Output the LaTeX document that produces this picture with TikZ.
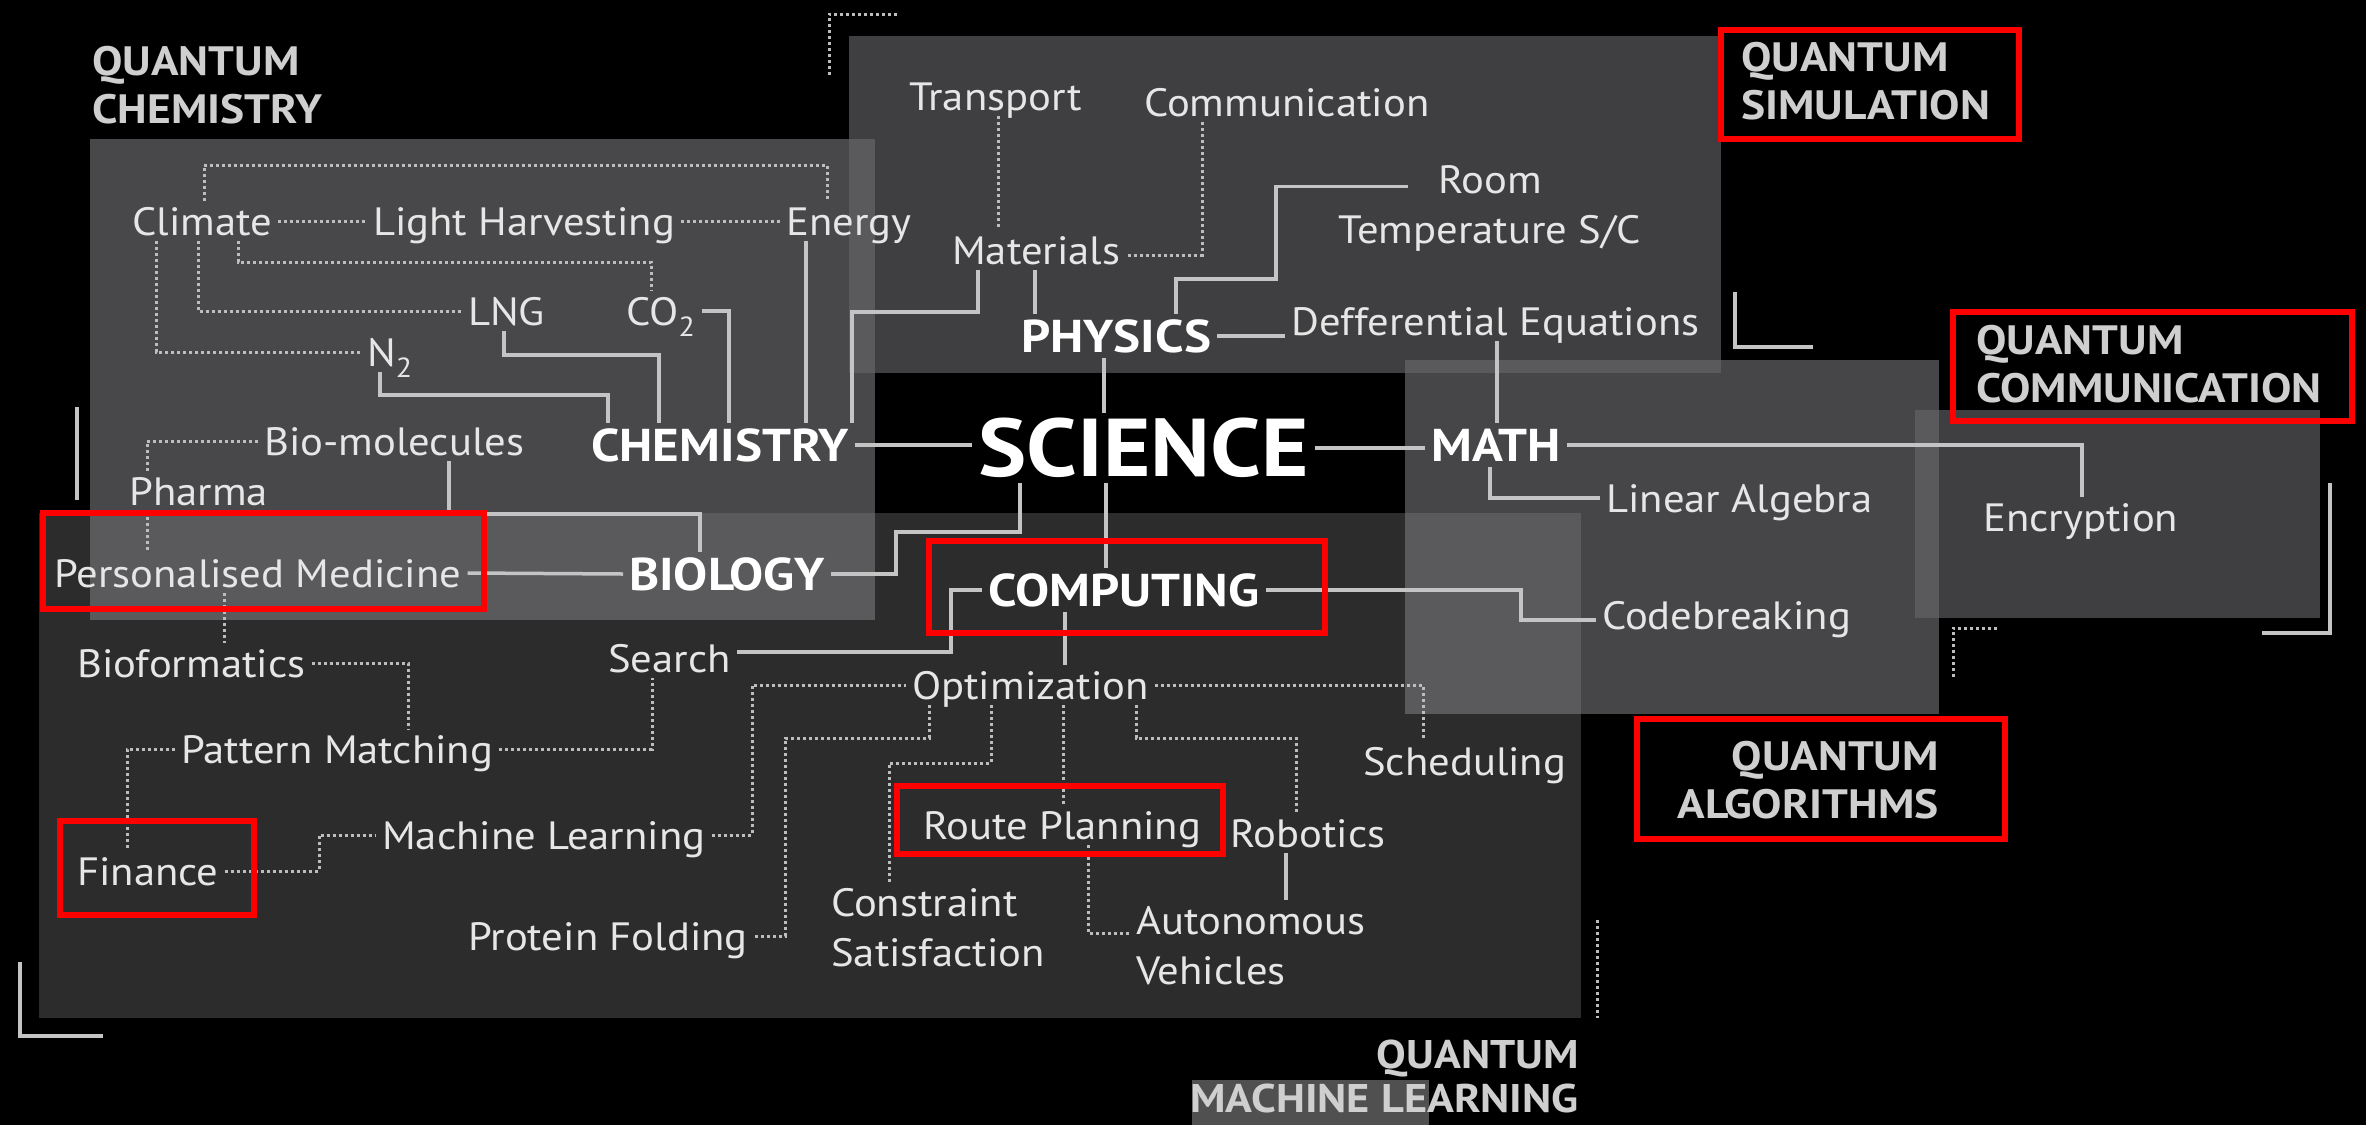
\documentclass[tikz,border=0pt]{standalone}
\usepackage{fontspec}
\setmainfont[FakeStretch=1.08, BoldFeatures={FakeStretch=1.11}]{PT Sans}
\usetikzlibrary{calc}
\definecolor{chemc}{HTML}{48484A}
\definecolor{physc}{HTML}{3F3F41}
\definecolor{mathc}{HTML}{464648}
\definecolor{commc}{HTML}{3F3F41}
\definecolor{mlc}{HTML}{2C2C2C}
\definecolor{ovc}{HTML}{5A5A5C}
\definecolor{hlc}{HTML}{505050}
\definecolor{txt}{HTML}{E6E6E6}
\definecolor{qtxt}{HTML}{CFCFCF}
\definecolor{linec}{HTML}{C4C4C4}
\definecolor{dotc}{HTML}{BDBDBD}
\begin{document}
\begin{tikzpicture}[x=1pt,y=-1pt,
  lab/.style={font=\fontsize{39.5}{50}\selectfont, text=txt, inner sep=6pt, text height=28pt, text depth=0pt, anchor=west},
  labm/.style={font=\fontsize{39.5}{50}\selectfont, text=txt, inner sep=6pt, align=left, anchor=north west},
  sect/.style={font=\bfseries\fontsize{46}{55}\selectfont, text=white, inner sep=6pt, text height=32pt, text depth=0pt, anchor=west},
  scil/.style={font=\bfseries\fontsize{82}{90}\selectfont, text=white, inner sep=6pt, text height=57pt, text depth=0pt, anchor=west},
  qlab/.style={font=\bfseries\fontsize{41}{48}\selectfont, text=qtxt, inner sep=0pt},
  solidl/.style={draw=linec, line width=3.5pt},
  dotl/.style={draw=dotc, line width=3pt, dash pattern=on 3pt off 3pt},
  redbox/.style={draw=red, line width=6pt}]
\useasboundingbox (0,0) rectangle (2366,1125);
\fill[black] (0,0) rectangle (2366,1125);
% panels
\fill[chemc] (90,139) rectangle (875,620);
\fill[physc] (849,36) rectangle (1721,373);
\fill[mathc] (1405,360) rectangle (1939,714);
\fill[commc] (1915,410) rectangle (2320,618);
\fill[mlc] (39,513) rectangle (1581,1018);
\fill[ovc] (90,513) rectangle (875,620);
\fill[ovc] (849,139) rectangle (875,373);
\fill[ovc] (1405,360) rectangle (1721,373);
\fill[ovc] (1405,513) rectangle (1581,714);
\fill[ovc] (1915,410) rectangle (1939,618);
\fill[hlc] (1192,1080) rectangle (1429,1125);
% corner marks
\draw[dotl] (829,75) -- (829,14) -- (898,14);
\draw[solidl] (1735,292) -- (1735,347) -- (1813,347);
\draw[solidl] (2330,483) -- (2330,633) -- (2262,633);
\draw[dotl] (1953,677) -- (1953,628) -- (1997,628);
\draw[dotl] (1597,920) -- (1597,1018);
\draw[solidl] (20,962) -- (20,1036) -- (103,1036);
\draw[solidl] (77,407) -- (77,500);
% quantum labels
\node[qlab, align=left, anchor=north west] (qchem) at (92,46) {QUANTUM\\CHEMISTRY};
\node[qlab, align=left, anchor=north west] (qsim) at (1741,42) {QUANTUM\\SIMULATION};
\node[qlab, align=left, anchor=north west] (qcomm) at (1976,325) {QUANTUM\\COMMUNICATION};
\node[qlab, align=right, anchor=north east] (qalg) at (1939,741) {QUANTUM\\ALGORITHMS};
\node[qlab, align=right, anchor=north east, font=\bfseries\fontsize{40}{44}\selectfont] (qml) at (1579,1040) {QUANTUM\\MACHINE LEARNING};
% nodes
\node[lab] (climate) at (126,221) {Climate};
\node[lab] (lh) at (367,221) {Light Harvesting};
\node[lab] (energy) at (780,221) {Energy};
\node[lab] (lng) at (462,311) {LNG};
\node[lab] (co2) at (620,311) {CO\textsubscript{2}};
\node[lab] (n2) at (361,352) {N\textsubscript{2}};
\node[lab] (biomol) at (258,441) {Bio-molecules};
\node[sect] (chem) at (585,445) {CHEMISTRY};
\node[lab] (pharma) at (123,491) {Pharma};
\node[lab] (pmed) at (48,573) {Personalised Medicine};
\node[sect] (bio) at (623,574) {BIOLOGY};
\node[lab] (biof) at (71,663) {Bioformatics};
\node[lab] (search) at (602,658) {Search};
\node[lab] (patt) at (175,749) {Pattern Matching};
\node[lab] (fin) at (71,871) {Finance};
\node[lab] (mlearn) at (376,835) {Machine Learning};
\node[lab] (pfold) at (462,936) {Protein Folding};
\node[lab] (trans) at (903,96) {Transport};
\node[lab] (comm) at (1138,102) {Communication};
\node[labm, align=center, anchor=north] (room) at (1490,159.5) {Room\\Temperature S/C};
\node[lab] (mat) at (946,250) {Materials};
\node[sect] (phys) at (1015,336) {PHYSICS};
\node[lab] (deq) at (1285,321) {Defferential Equations};
\node[scil] (sci) at (972,448) {SCIENCE};
\node[sect] (math) at (1425,445) {MATH};
\node[lab] (linalg) at (1600,498) {Linear Algebra};
\node[lab] (enc) at (1977,517) {Encryption};
\node[sect] (comp) at (982,590) {COMPUTING};
\node[lab] (code) at (1596,615) {Codebreaking};
\node[lab] (opt) at (906,685) {Optimization};
\node[lab] (sched) at (1357,761) {Scheduling};
\node[lab] (route) at (917,825) {Route Planning};
\node[lab] (robot) at (1224,833) {Robotics};
\node[labm] (cs) at (825,882) {Constraint\\Satisfaction};
\node[labm] (av) at (1130,900) {Autonomous\\Vehicles};
% chemistry connectors
\draw[dotl] (climate.east) -- (lh.west);
\draw[dotl] (lh.east) -- (energy.west);
\draw[dotl] (204,0 |- climate.north) -- (204,165) -- (827,165) -- (827,0 |- energy.north);
\draw[dotl] (238,0 |- climate.south) -- (238,262) -- (651,262) -- (651,0 |- co2.north);
\draw[dotl] (198,0 |- climate.south) |- (lng.west);
\draw[dotl] (156,0 |- climate.south) |- (n2.west);
\draw[solidl] (380,0 |- n2.south) -- (380,395) -- (608,395) -- (608,0 |- chem.north);
\draw[solidl] (504,0 |- lng.south) -- (504,355) -- (659,355) -- (659,0 |- chem.north);
\draw[solidl] (co2.east) -| (729,0 |- chem.north);
\draw[solidl] (806,0 |- energy.south) -- (806,0 |- chem.north);
\draw[solidl] (978,0 |- mat.south) -- (978,312) -- (852,312) -- (852,0 |- chem.north);
\draw[solidl] (chem.east) -- (sci.west |- chem.east);
% biology connectors
\draw[dotl] (biomol.west) -| (147,0 |- pharma.north);
\draw[solidl] (449,0 |- biomol.south) -- (449,514) -- (700,514) -- (700,0 |- bio.north);
\draw[dotl] (147,0 |- pharma.south) -- (147,0 |- pmed.north);
\draw[solidl] (pmed.east) -- (bio.west);
\draw[dotl] (224,0 |- pmed.south) -- (224,0 |- biof.north);
\draw[dotl] (biof.east) -| (408,0 |- patt.north);
\draw[dotl] (patt.west) -| (127,0 |- fin.north);
\draw[dotl] (patt.east) -| (652,0 |- search.south);
\draw[dotl] (fin.east) -| (319,0 |- mlearn.west) -- (mlearn.west);
\draw[dotl] (mlearn.east) -| (752,0 |- opt.west) -- (opt.west);
% computing connectors
\draw[dotl] (929,0 |- opt.south) -- (929,738) -- (785,738) |- (pfold.east);
\draw[dotl] (991,0 |- opt.south) -- (991,763) -- (889,763) -- (889,0 |- cs.north);
\draw[dotl] (1063,0 |- opt.south) -- (1063,0 |- route.north);
\draw[dotl] (1136,0 |- opt.south) -- (1136,738) -- (1296,738) -- (1296,0 |- robot.north);
\draw[dotl] (opt.east) -| (1423,0 |- sched.north);
\draw[dotl] (1088,0 |- route.south) -- (1088,933) -- (av.west |- 0,933);
\draw[solidl] (1286,0 |- robot.south) -- (1286,0 |- av.north);
% physics connectors
\draw[dotl] (998,0 |- trans.south) -- (998,0 |- mat.north);
\draw[dotl] (1202,0 |- comm.south) -- (1202,255) -- (mat.east |- 0,255);
\draw[solidl] (1035,0 |- mat.south) -- (1035,0 |- phys.north);
\draw[solidl] ([shift={(-82,27)}]room.north) -| (1276,279) -| (1176,0 |- phys.north);
\draw[solidl] (phys.east) -- (deq.west |- phys.east);
\draw[solidl] (1104,0 |- phys.south) -- (1104,0 |- sci.north);
% math connectors
\draw[solidl] (1497,0 |- deq.south) -- (1497,0 |- math.north);
\draw[solidl] (sci.east) -- (math.west |- sci.east);
\draw[solidl] (math.east) -| (2082,0 |- enc.north);
\draw[solidl] (1490,0 |- math.south) |- (linalg.west);
% science to biology / computing
\draw[solidl] (1020,0 |- sci.south) |- (896,532) |- (bio.east);
\draw[solidl] (1106,0 |- sci.south) -- (1106,0 |- comp.north);
\draw[solidl] (comp.west) -| (951,652) -- (search.east |- 0,652);
\draw[solidl] (1065,0 |- comp.south) -- (1065,0 |- opt.north);
\draw[solidl] (comp.east) -| (1521,620) -- (code.west |- 0,620);
% red boxes
\draw[redbox] (43,513) rectangle (484,609);
\draw[redbox] (929,541) rectangle (1325,633);
\draw[redbox] (897,786) rectangle (1223,854);
\draw[redbox] (60,821) rectangle (254,915);
\draw[redbox] (1721,30) rectangle (2019,139);
\draw[redbox] (1953,312) rectangle (2352,421);
\draw[redbox] (1637,719) rectangle (2005,839);
\end{tikzpicture}
\end{document}
